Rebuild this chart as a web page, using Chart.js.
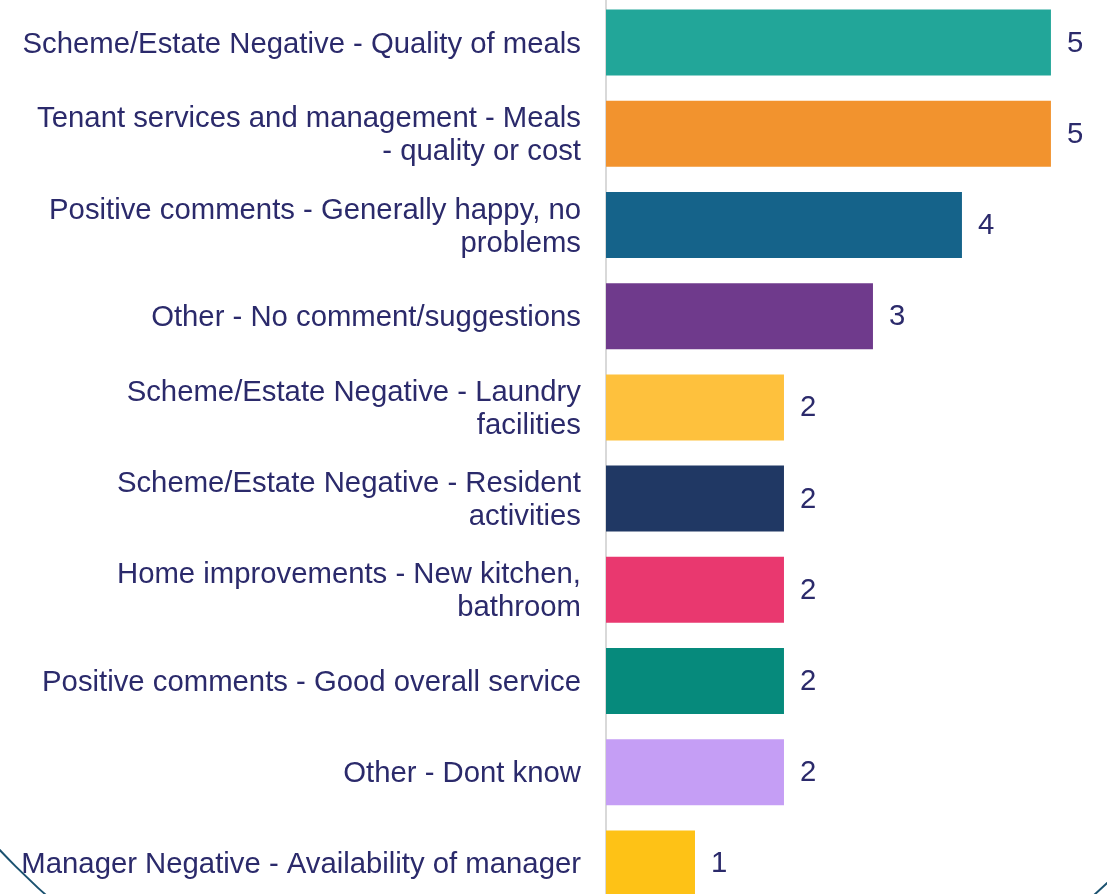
<!DOCTYPE html>
<html>
<head>
<meta charset="utf-8">
<script src="https://cdn.jsdelivr.net/npm/chart.js@4.4.1/dist/chart.umd.min.js"></script>
<style>
    html, body { margin: 0; padding: 0; background: #fff; overflow: hidden; }
    #wrap { position: absolute; left: 0; top: -3px; width: 1107px; height: 912px; }
</style>
</head>
<body>
<div id="wrap"><canvas id="chart"></canvas></div>
<script>
// Catégories (libellés sur deux lignes quand ils sont longs)
const categories = [
    ['Scheme/Estate Negative - Quality of meals'],
    ['Tenant services and management - Meals', '- quality or cost'],
    ['Positive comments - Generally happy, no', 'problems'],
    ['Other - No comment/suggestions'],
    ['Scheme/Estate Negative - Laundry', 'facilities'],
    ['Scheme/Estate Negative - Resident', 'activities'],
    ['Home improvements - New kitchen,', 'bathroom'],
    ['Positive comments - Good overall service'],
    ['Other - Dont know'],
    ['Manager Negative - Availability of manager']
];
const counts = [5, 5, 4, 3, 2, 2, 2, 2, 2, 1];
const barColors = [
    '#22a699', '#f2932e', '#15638a', '#6f3a8c', '#fec13d',
    '#203864', '#e9386f', '#068a7c', '#c59ef5', '#fec216'
];

const textColor = '#2b2a6b';
const fontFamily = '"Liberation Sans", Arial, sans-serif';
const fontSize = 29.3;

// Valeurs écrites au bout de chaque barre
const valueLabels = {
    id: 'valueLabels',
    afterDatasetsDraw(chart) {
        const ctx = chart.ctx;
        const meta = chart.getDatasetMeta(0);
        ctx.save();
        ctx.font = fontSize + 'px ' + fontFamily;
        ctx.fillStyle = textColor;
        ctx.textAlign = 'left';
        ctx.textBaseline = 'middle';
        meta.data.forEach((bar, i) => {
            ctx.fillText(String(counts[i]), bar.x + 16, bar.y + 1);
        });
        ctx.restore();
    }
};

// Cercle décoratif visible dans les coins du bas
const decoCircle = {
    id: 'decoCircle',
    afterDraw(chart) {
        const ctx = chart.ctx;
        ctx.save();
        ctx.strokeStyle = '#1b5270';
        ctx.lineWidth = 2;
        ctx.beginPath();
        ctx.arc(570, 315, 784, 0, Math.PI * 2);
        ctx.stroke();
        ctx.restore();
    }
};

new Chart(document.getElementById('chart'), {
    type: 'bar',
    data: {
        labels: categories,
        datasets: [{
            data: counts,
            backgroundColor: barColors,
            borderWidth: 0,
            categoryPercentage: 1,
            barPercentage: 0.724
        }]
    },
    options: {
        indexAxis: 'y',
        responsive: true,
        maintainAspectRatio: false,
        animation: false,
        layout: { padding: 0 },
        plugins: {
            legend: { display: false },
            tooltip: { enabled: false }
        },
        scales: {
            x: {
                display: false,
                min: 0,
                max: 5.63
            },
            y: {
                grid: { display: false, drawTicks: false },
                border: { display: true, color: '#d9d9d9', width: 2 },
                ticks: {
                    padding: 25,
                    labelOffset: 2,
                    color: textColor,
                    font: { family: fontFamily, size: fontSize, lineHeight: 1.13 }
                },
                afterFit(scale) {
                    // pas de marge haute/basse : la zone du graphique remplit le canvas
                    scale.width = 606;
                    scale.paddingTop = 0;
                    scale.paddingBottom = 0;
                }
            }
        }
    },
    plugins: [valueLabels, decoCircle]
});
</script>
</body>
</html>
